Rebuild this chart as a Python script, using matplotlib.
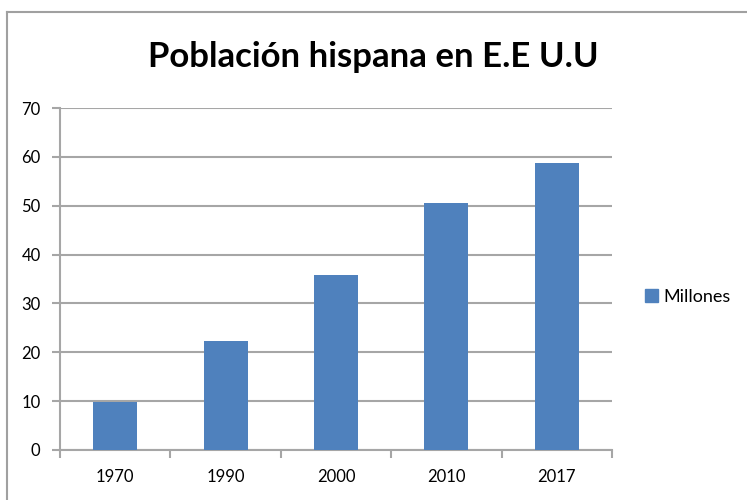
import matplotlib.pyplot as plt
from matplotlib.patches import Patch

years = ["1970", "1990", "2000", "2010", "2017"]
millones = [9.8, 22.4, 35.8, 50.5, 58.8]
y_ticks = [0, 10, 20, 30, 40, 50, 60, 70]

plt.rcParams['font.family'] = ['Lato', 'DejaVu Sans']
grid_col = '#a6a6a6'

fig = plt.figure(figsize=(7.47, 5.0), dpi=100)

# marco del grafico (solo se ven los bordes izquierdo y superior)
fig.add_artist(plt.Line2D([7/747, 7/747], [0, 1 - 12/500], color='#a0a0a0', lw=1.5))
fig.add_artist(plt.Line2D([7/747, 1], [1 - 12/500, 1 - 12/500], color='#a0a0a0', lw=1.5))

ax = fig.add_axes([60/747, 1 - 450/500, 552/747, 342/500])
x = list(range(len(years)))
ax.bar(x, millones, width=0.4, color='#4f81bd', zorder=3)

ax.set_xlim(-0.5, len(years) - 0.5)
ax.set_ylim(0, 70)
ax.set_yticks(y_ticks)
ax.yaxis.grid(True, color=grid_col, lw=1.5, zorder=0)

ax.set_xticks(x)
ax.set_xticklabels(years, fontsize=12)
ax.set_xticks([i - 0.5 for i in range(len(years) + 1)], minor=True)
ax.tick_params(axis='x', which='major', length=0, pad=14)
ax.tick_params(axis='x', which='minor', length=6, color=grid_col, width=1.5)
ax.tick_params(axis='y', length=6, color=grid_col, width=1.5, labelsize=12, pad=8)

for s in ['top', 'right']:
    ax.spines[s].set_visible(False)
for s in ['left', 'bottom']:
    ax.spines[s].set_color(grid_col)
    ax.spines[s].set_linewidth(1.5)

fig.text(0.5, 1 - 57/500, "Población hispana en E.E U.U", ha='center', va='center',
         fontsize=25, fontweight='bold')

fig.legend(handles=[Patch(color='#4f81bd', label='Millones')], loc='center left',
           bbox_to_anchor=(629/747, 1 - 297/500), frameon=False, fontsize=13,
           handlelength=0.7, handleheight=0.7, handletextpad=0.3)

fig.savefig("out.png", dpi=100)
